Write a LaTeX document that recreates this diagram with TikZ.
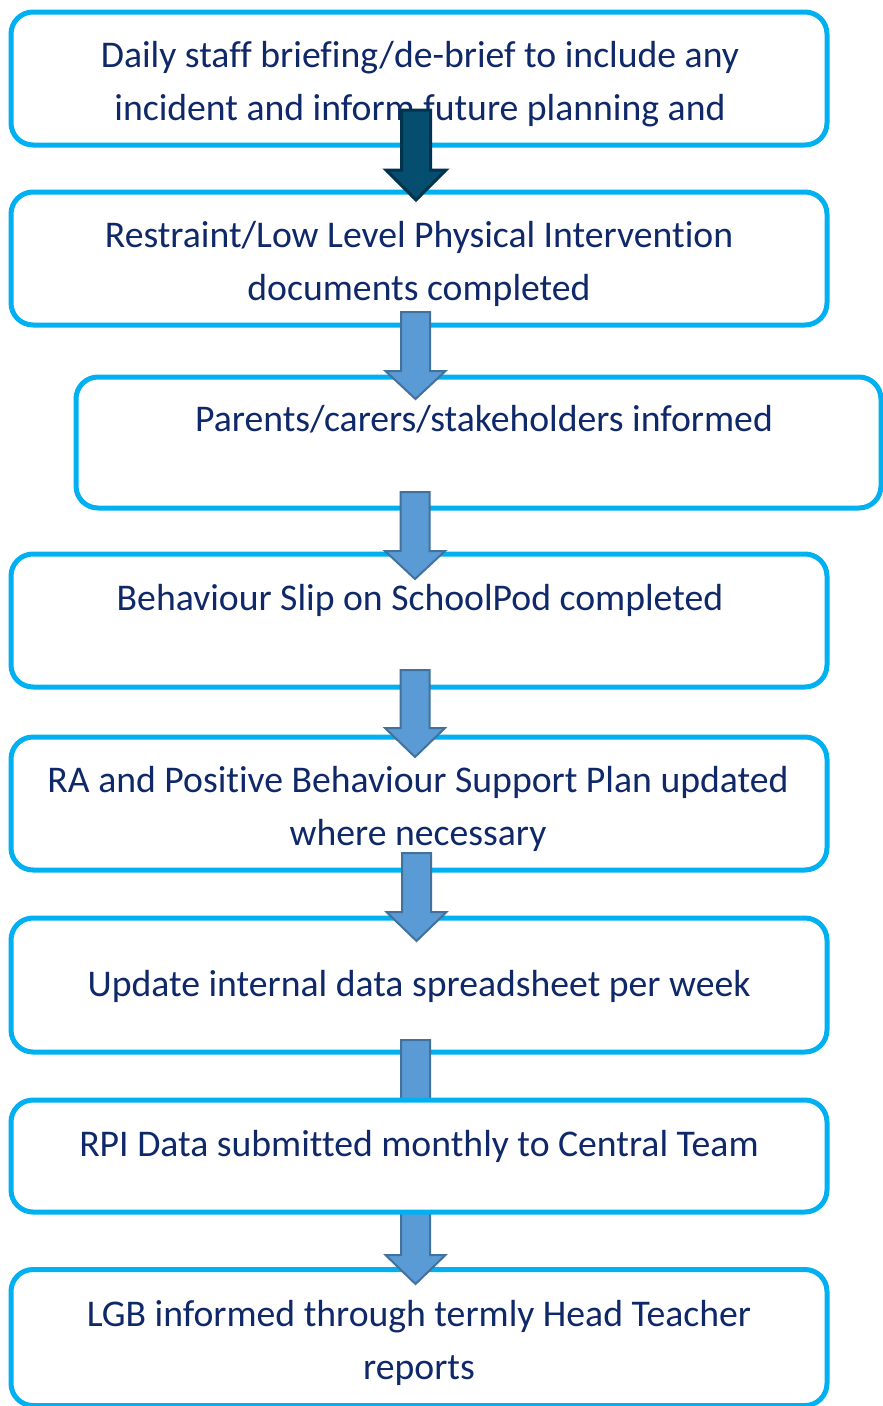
\documentclass[tikz,border=0pt]{standalone}
\usepackage{fontspec}
\setmainfont{Carlito}[Ligatures=NoCommon]
\definecolor{boxblue}{HTML}{00B0F0}
\definecolor{txtnavy}{RGB}{15,40,105}
\definecolor{arrfill}{HTML}{5B9BD5}
\definecolor{arrline}{HTML}{41719C}
\definecolor{darkfill}{RGB}{5,78,112}
\definecolor{darkline}{RGB}{0,52,78}
\tikzset{
  flowbox/.style={draw=boxblue, line width=5pt, fill=white, rounded corners=22pt, inner sep=0pt},
  flowtext/.style={text=txtnavy, align=center, anchor=base, inner sep=0pt, font=\fontsize{37.7}{53}\selectfont},
  bluearrow/.style={fill=arrfill, draw=arrline, line width=2pt, line join=miter},
  darkarrow/.style={fill=darkfill, draw=darkline, line width=3pt, line join=miter}
}
% block arrow: #1 style, #2 x centre, #3 top y, #4 head base y, #5 tip y
\newcommand{\blockarrow}[5]{%
  \draw[#1] (#2-14.5,#3) -- (#2+14.5,#3) -- (#2+14.5,#4) -- (#2+30,#4) -- (#2,#5) -- (#2-30,#4) -- (#2-14.5,#4) -- cycle;}
\begin{document}
\begin{tikzpicture}[x=1pt,y=-1pt]
\useasboundingbox (0,0) rectangle (883,1406);
% boxes 1-6 and 8
\node[flowbox, minimum width=816pt, minimum height=133pt] (b1) at (419,78.5) {};
\node[flowbox, minimum width=816pt, minimum height=133pt] (b2) at (419,258.5) {};
\node[flowbox, minimum width=805pt, minimum height=131pt] (b3) at (478.5,442.5) {};
\node[flowbox, minimum width=816pt, minimum height=133pt] (b4) at (419,620.5) {};
\node[flowbox, minimum width=816pt, minimum height=133pt] (b5) at (419,803.5) {};
\node[flowbox, minimum width=816pt, minimum height=134pt] (b6) at (419,985) {};
\node[flowbox, minimum width=816pt, minimum height=136pt] (b8) at (419,1337.5) {};
% arrows passing under box 7
\blockarrow{bluearrow}{415.5}{1040}{1128}{1150}
\blockarrow{bluearrow}{415.5}{1200}{1255}{1284}
\node[flowbox, minimum width=816pt, minimum height=112pt] (b7) at (419,1156) {};
% texts (base anchor = baseline of last line)
\node[flowtext] (t1) at (420,120) {Daily staff briefing/de-brief to include any\\incident and inform future planning and};
\node[flowtext] (t2) at (419,300) {Restraint/Low Level Physical Intervention\\documents completed};
\node[flowtext] (t3) at (484,431) {Parents/carers/stakeholders informed};
\node[flowtext] (t4) at (420,610) {Behaviour Slip on SchoolPod completed};
\node[flowtext] (t5) at (418,845) {RA and Positive Behaviour Support Plan updated\\where necessary};
\node[flowtext] (t6) at (419,996) {Update internal data spreadsheet per week};
\node[flowtext] (t7) at (419,1156) {RPI Data submitted monthly to Central Team};
\node[flowtext] (t8) at (419,1379) {LGB informed through termly Head Teacher\\reports};
% arrows on top
\blockarrow{darkarrow}{416}{110}{170}{200}
\blockarrow{bluearrow}{415.5}{312}{371}{399}
\blockarrow{bluearrow}{415}{492}{551}{579}
\blockarrow{bluearrow}{415}{670}{728}{757}
\blockarrow{bluearrow}{416.5}{853}{912}{941}
\end{tikzpicture}
\end{document}
